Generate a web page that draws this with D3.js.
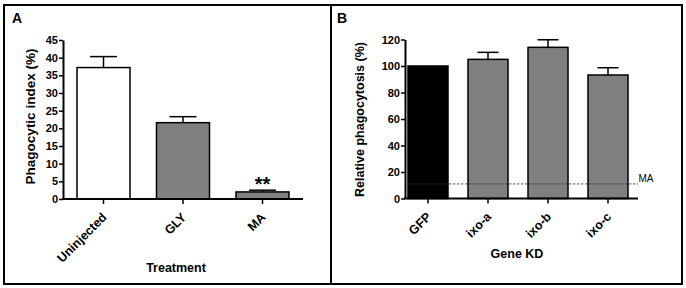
<!DOCTYPE html>
<html lang="en">
<head>
<meta charset="UTF-8">
<title>Phagocytosis</title>
<script src="https://cdn.jsdelivr.net/npm/d3@7"></script>
<style>
    body { margin: 0; background: #fff; }
    text { font-family: "Liberation Sans", Arial, sans-serif; }
</style>
</head>
<body>
<script>
    // panel A
    var treatments = ["Uninjected", "GLY", "MA"];
    var phagoIndex = [37.2, 21.6, 2.0];
    var phagoErr = [3.1, 1.7, 0.5];
    var fillsA = ["#ffffff", "#808080", "#808080"];
    var ticksA = [0, 5, 10, 15, 20, 25, 30, 35, 40, 45];

    // panel B
    var genes = ["GFP", "ixo-a", "ixo-b", "ixo-c"];
    var relPhago = [100, 105, 114.1, 93.2];
    var relErr = [0, 5.3, 5.7, 5.5];
    var fillsB = ["#000000", "#808080", "#808080", "#808080"];
    var ticksB = [0, 20, 40, 60, 80, 100, 120];
    var maLevel = 11;

    var svg = d3.select("body").append("svg")
        .attr("width", 686)
        .attr("height", 288);

    // frames
    svg.append("rect").attr("x", 4).attr("y", 5).attr("width", 327).attr("height", 279)
        .attr("fill", "none").attr("stroke", "#000").attr("stroke-width", 2);
    svg.append("rect").attr("x", 331).attr("y", 5).attr("width", 351).attr("height", 279)
        .attr("fill", "none").attr("stroke", "#000").attr("stroke-width", 2);

    function panel(opt) {
        var g = svg.append("g");
        var x = d3.scaleBand().domain(opt.cats).range(opt.band).paddingInner(1 / 3).paddingOuter(1 / 6);
        var y = d3.scaleLinear().domain([0, opt.ymax]).range([opt.y0, opt.y1]);

        // bars
        g.selectAll(".bar").data(opt.vals).enter().append("rect")
            .attr("x", (d, i) => x(opt.cats[i]))
            .attr("y", d => y(d))
            .attr("width", x.bandwidth())
            .attr("height", d => y(0) - y(d))
            .attr("fill", (d, i) => opt.fills[i])
            .attr("stroke", "#000")
            .attr("stroke-width", 1.5);

        // error bars (upper only)
        opt.vals.forEach(function (v, i) {
            if (!opt.errs[i]) return;
            var cx = x(opt.cats[i]) + x.bandwidth() / 2;
            g.append("line").attr("x1", cx).attr("x2", cx)
                .attr("y1", y(v)).attr("y2", y(v + opt.errs[i]))
                .attr("stroke", "#000").attr("stroke-width", 1.5);
            g.append("line").attr("x1", cx - opt.cap).attr("x2", cx + opt.cap)
                .attr("y1", y(v + opt.errs[i])).attr("y2", y(v + opt.errs[i]))
                .attr("stroke", "#000").attr("stroke-width", 1.5);
        });

        // y axis
        var ya = g.append("g").attr("transform", "translate(" + opt.x0 + ",0)")
            .call(d3.axisLeft(y).tickValues(opt.ticks).tickSize(4).tickPadding(1).tickSizeOuter(0));
        ya.select(".domain").attr("stroke-width", 2);
        ya.selectAll(".tick line").attr("stroke-width", 1.5);
        ya.selectAll("text").attr("font-size", 11).attr("font-weight", "bold").attr("fill", "#000")
            .attr("font-family", "Liberation Sans, Arial, sans-serif");

        // x axis
        var xa = g.append("g").attr("transform", "translate(0," + opt.y0 + ")")
            .call(d3.axisBottom(x).tickSize(5).tickSizeOuter(0));
        xa.select(".domain").attr("d", "M" + (opt.x0 - 1) + ",0H" + opt.xEnd).attr("stroke-width", 2);
        xa.selectAll(".tick line").attr("stroke-width", 1.5);
        xa.selectAll("text")
            .attr("font-size", 12.5).attr("font-weight", "bold").attr("fill", "#000")
            .attr("font-family", "Liberation Sans, Arial, sans-serif")
            .attr("text-anchor", "end")
            .attr("dy", 0)
            .attr("transform", "translate(4,19) rotate(-45)")
            .attr("y", 0).attr("x", 0);

        // titles
        g.append("text")
            .attr("transform", "translate(" + opt.ytx + "," + opt.ytyc + ") rotate(-90)")
            .attr("text-anchor", "middle").attr("font-size", opt.ytsize).attr("font-weight", "bold")
            .text(opt.ytitle);
        g.append("text").attr("x", opt.xtx).attr("y", opt.xty)
            .attr("text-anchor", "middle").attr("font-size", 12.5).attr("font-weight", "bold")
            .text(opt.xtitle);
        g.append("text").attr("x", opt.lx).attr("y", opt.ly)
            .attr("font-size", 14).attr("font-weight", "bold")
            .text(opt.label);

        return { g: g, x: x, y: y };
    }

    var pa = panel({
        cats: treatments, vals: phagoIndex, errs: phagoErr, fills: fillsA, ticks: ticksA,
        band: [63.75, 302.25], x0: 63, xEnd: 303, y0: 199, y1: 40, ymax: 45, cap: 13.5,
        ytitle: "Phagocytic index (%)", ytx: 34.5, ytyc: 116.5, ytsize: 13.5,
        xtitle: "Treatment", xtx: 176, xty: 272,
        label: "A", lx: 12, ly: 23
    });
    // significance stars
    pa.g.append("text")
        .attr("x", pa.x("MA") + pa.x.bandwidth() / 2)
        .attr("y", 191)
        .attr("text-anchor", "middle").attr("font-size", 20).attr("font-weight", "bold")
        .text("**");

    var pb = panel({
        cats: genes, vals: relPhago, errs: relErr, fills: fillsB, ticks: ticksB,
        band: [398, 638], x0: 405, xEnd: 638, y0: 198.5, y1: 39.5, ymax: 120, cap: 10.5,
        ytitle: "Relative phagocytosis (%)", ytx: 364, ytyc: 119.5, ytsize: 12.5,
        xtitle: "Gene KD", xtx: 517, xty: 258,
        label: "B", lx: 337, ly: 23
    });
    // MA reference line
    pb.g.append("line")
        .attr("x1", 405).attr("x2", 638)
        .attr("y1", pb.y(maLevel)).attr("y2", pb.y(maLevel))
        .attr("stroke", "#333").attr("stroke-width", 0.8).attr("stroke-dasharray", "2.5,1.5");
    pb.g.append("text")
        .attr("x", 646).attr("y", 182)
        .attr("text-anchor", "middle").attr("font-size", 10)
        .text("MA");
</script>
</body>
</html>
